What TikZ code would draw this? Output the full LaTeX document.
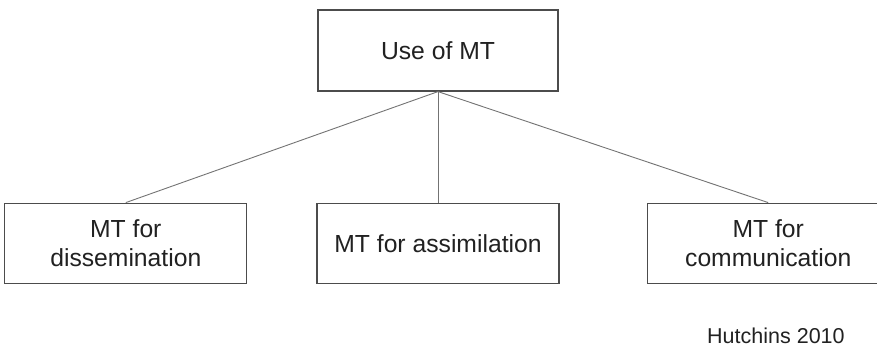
\documentclass[tikz,border=0pt]{standalone}
\usepackage{fontspec}
\setmainfont{Liberation Sans}
\usepackage{tikz}
\usetikzlibrary{positioning}
\definecolor{boxline}{gray}{0.3}
\definecolor{linkline}{gray}{0.45}
\definecolor{inkcol}{gray}{0.13}

\begin{document}
\begin{tikzpicture}[x=1pt,y=-1pt,node distance=111pt,
  box/.style={draw=boxline,line width=1.2pt,text=inkcol,align=center,
    minimum width=242pt,minimum height=80pt,inner sep=0pt,
    font=\fontsize{24.7}{29.5}\selectfont},
  link/.style={draw=linkline,line width=0.9pt}]
  \clip (0,0) rectangle (877,348);
  \node[box,minimum width=240pt,minimum height=81pt] (use) at (438,50.5) {Use of MT};
  \node[box] (assim) [below=of use] {MT for assimilation};
  \node[box] (dissem) [left=69pt of assim] {MT for\\dissemination};
  \node[box] (comm) [right=87pt of assim] {MT for\\communication};
  \node[anchor=base west,text=inkcol,inner sep=0pt,
    font=\fontsize{21.5}{26}\selectfont] (src) at (707,343.5) {Hutchins 2010};
%
  \path[link] (use.south) -- (dissem.north);
  \path[link] (use.south) -- (assim.north);
  \path[link] (use.south) -- (comm.north);
\end{tikzpicture}
\end{document}
